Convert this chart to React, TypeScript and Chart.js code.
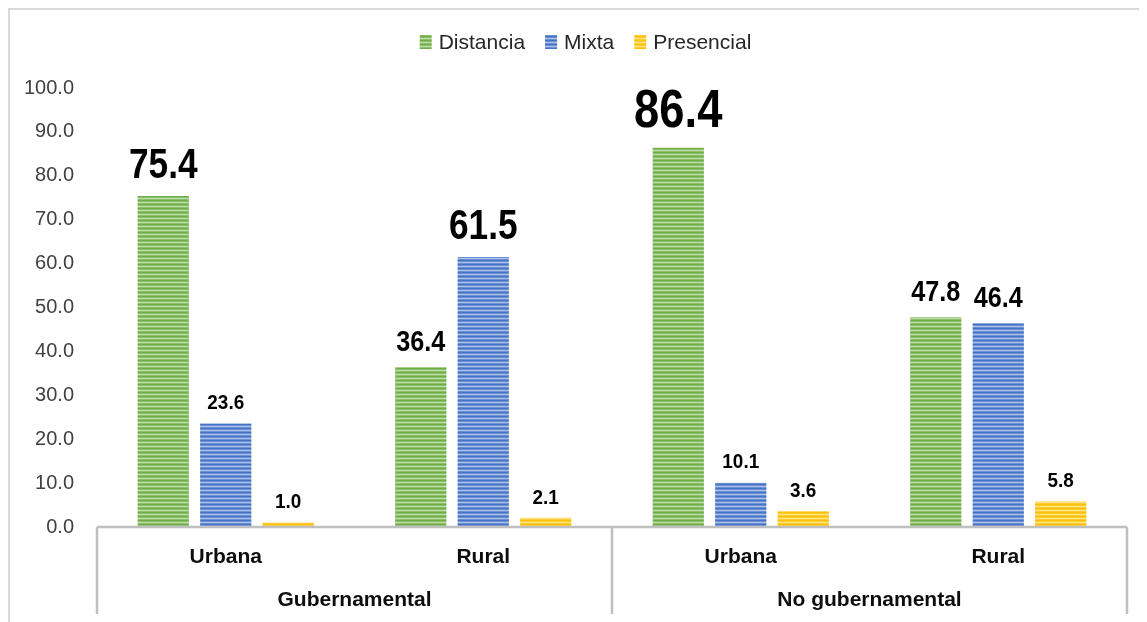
import { useEffect, useRef } from "react";
import { Chart, registerables } from "chart.js";

Chart.register(...registerables);

const categories = ["Urbana", "Rural", "Urbana", "Rural"];
const groups = ["Gubernamental", "No gubernamental"];
const seriesNames = ["Distancia", "Mixta", "Presencial"];
const distancia = [75.4, 36.4, 86.4, 47.8];
const mixta = [23.6, 61.5, 10.1, 46.4];
const presencial = [1.0, 2.1, 3.6, 5.8];
const yMin = 0;
const yMax = 100;
const yStep = 10;

const FONT = '"Liberation Sans Narrow", "Arial Narrow", "Liberation Sans", Arial, sans-serif';
const W = 1139;
const H = 614;

const palette = [
  { dark: "#70AD47", mid: "#8cc06a", light: "#bcdba6" },
  { dark: "#4472C4", mid: "#6a8fd2", light: "#aec2e8" },
  { dark: "#FFC000", mid: "#ffcd33", light: "#ffe38a" },
];

function makePattern(c: { dark: string; mid: string; light: string }) {
  const cv = document.createElement("canvas");
  cv.width = 8;
  cv.height = 4;
  const x = cv.getContext("2d")!;
  x.fillStyle = c.dark;
  x.fillRect(0, 0, 8, 1);
  x.fillStyle = c.mid;
  x.fillRect(0, 1, 8, 1);
  x.fillStyle = c.light;
  x.fillRect(0, 2, 8, 1);
  x.fillStyle = c.mid;
  x.fillRect(0, 3, 8, 1);
  const p = x.createPattern(cv, "repeat");
  return p || c.dark;
}

function labelSize(v: number) {
  if (v > 80) return 54;
  if (v > 55) return 42;
  if (v > 30) return 30;
  return 21;
}

export default function App() {
  const ref = useRef<HTMLCanvasElement>(null);

  useEffect(() => {
    document.documentElement.style.overflow = "hidden";
    document.body.style.overflow = "hidden";
    const canvas = ref.current!;
    const patterns = palette.map(makePattern);

    const framePlugin = {
      id: "frame",
      beforeDraw(chart: any) {
        const ctx = chart.ctx;
        ctx.save();
        ctx.strokeStyle = "#d9d9d9";
        ctx.lineWidth = 2;
        ctx.beginPath();
        ctx.moveTo(1, H);
        ctx.lineTo(1, 1);
        ctx.lineTo(W, 1);
        ctx.stroke();
        ctx.restore();
      },
    };

    const legendPlugin = {
      id: "customLegend",
      afterDraw(chart: any) {
        const ctx = chart.ctx;
        ctx.save();
        ctx.font = `21px ${FONT}`;
        const box = 12;
        const gapBT = 7;
        const gapItems = 20;
        const widths = seriesNames.map((n) => ctx.measureText(n).width);
        const total =
          widths.reduce((a, w) => a + box + gapBT + w, 0) + gapItems * (seriesNames.length - 1);
        let x = 577.5 - total / 2;
        const cy = 34;
        seriesNames.forEach((n, i) => {
          ctx.fillStyle = patterns[i] as any;
          ctx.fillRect(x, cy - 7, box, 14);
          x += box + gapBT;
          ctx.fillStyle = "#262626";
          ctx.textAlign = "left";
          ctx.textBaseline = "middle";
          ctx.fillText(n, x, cy + 1);
          x += widths[i] + gapItems;
        });
        ctx.restore();
      },
    };

    const labelsPlugin = {
      id: "valueLabels",
      afterDatasetsDraw(chart: any) {
        const ctx = chart.ctx;
        chart.data.datasets.forEach((ds: any, di: number) => {
          const meta = chart.getDatasetMeta(di);
          meta.data.forEach((bar: any, i: number) => {
            const v = ds.data[i] as number;
            const size = labelSize(v);
            ctx.save();
            ctx.font = `bold ${size}px ${FONT}`;
            ctx.fillStyle = "#000000";
            ctx.textAlign = "center";
            ctx.textBaseline = "alphabetic";
            ctx.translate(bar.x, bar.y - (10 + 0.2 * size));
            ctx.scale(size > 25 ? 0.84 : 0.9, 1);
            ctx.fillText(v.toFixed(1), 0, 0);
            ctx.restore();
          });
        });
      },
    };

    const axisPlugin = {
      id: "groupAxis",
      afterDraw(chart: any) {
        const ctx = chart.ctx;
        const area = chart.chartArea;
        const xs = chart.scales.x;
        const bottom = area.bottom;
        ctx.save();
        ctx.strokeStyle = "#bfbfbf";
        ctx.lineWidth = 2.5;
        ctx.beginPath();
        ctx.moveTo(area.left, bottom);
        ctx.lineTo(area.right, bottom);
        const mid = (xs.getPixelForValue(1) + xs.getPixelForValue(2)) / 2;
        [area.left, mid, area.right].forEach((x) => {
          ctx.moveTo(x, bottom);
          ctx.lineTo(x, bottom + 87);
        });
        ctx.stroke();

        ctx.fillStyle = "#0d0d0d";
        ctx.textAlign = "center";
        ctx.textBaseline = "middle";
        ctx.font = `bold 21px ${FONT}`;
        categories.forEach((c, i) => {
          ctx.fillText(c, xs.getPixelForValue(i), bottom + 30);
        });
        groups.forEach((g, gi) => {
          const x = (xs.getPixelForValue(gi * 2) + xs.getPixelForValue(gi * 2 + 1)) / 2;
          ctx.fillText(g, x, bottom + 73);
        });
        ctx.restore();
      },
    };

    const series = [distancia, mixta, presencial];

    const chart = new Chart(canvas, {
      type: "bar",
      data: {
        labels: categories,
        datasets: series.map((d, i) => ({
          label: seriesNames[i],
          data: d,
          backgroundColor: patterns[i] as any,
          borderWidth: 0,
          categoryPercentage: 0.728,
          barPercentage: 0.82,
        })),
      },
      options: {
        responsive: false,
        animation: false,
        layout: { padding: { top: 80, right: 20, bottom: 0, left: 0 } },
        plugins: {
          legend: { display: false },
          tooltip: { enabled: false },
        },
        scales: {
          x: {
            grid: { display: false, drawTicks: false },
            border: { display: false },
            ticks: { display: false },
            afterFit(s: any) {
              s.height = 95;
            },
          },
          y: {
            min: yMin,
            max: yMax,
            grid: { display: false, drawTicks: false },
            border: { display: false },
            ticks: {
              stepSize: yStep,
              padding: 23,
              color: "#404040",
              font: { family: FONT, size: 20 },
              callback: (v: any) => Number(v).toFixed(1),
            },
            afterFit(s: any) {
              s.width = 89;
            },
          },
        },
      },
      plugins: [framePlugin, labelsPlugin, axisPlugin, legendPlugin],
    });

    return () => chart.destroy();
  }, []);

  return (
    <div style={{ width: W, height: H }}>
      <canvas ref={ref} width={W} height={H} style={{ display: "block" }} />
    </div>
  );
}
